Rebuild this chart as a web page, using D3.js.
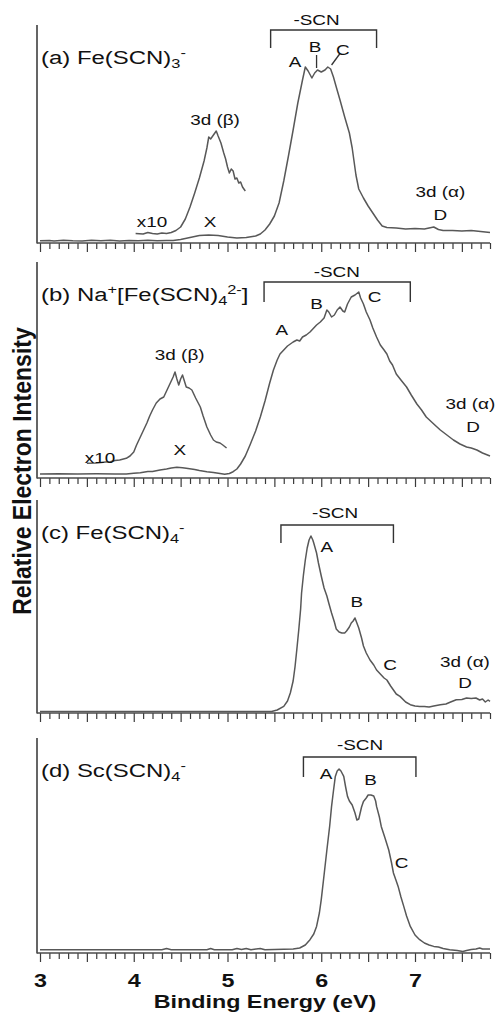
<!DOCTYPE html>
<html>
<head>
<meta charset="utf-8">
<script src="https://cdn.jsdelivr.net/npm/d3@7"></script>
<style>
html,body{margin:0;padding:0;background:#fff;}
svg{display:block;font-family:"Liberation Sans",Arial,sans-serif;}
</style>
</head>
<body>
<div id="container"></div>
<script>
// spectra: [binding energy (eV), relative intensity (arb. units)]
const specA=[[3.0,2.2],[3.1,2.6],[3.15,2.0],[3.25,2.8],[3.35,2.2],[3.45,2.0],[3.55,2.8],[3.65,2.2],[3.75,2.7],[3.85,2.0],[3.95,2.6],[4.05,2.2],[4.15,2.8],[4.25,2.3],[4.35,2.6],[4.42,2.5],[4.5,3.5],[4.6,5.5],[4.7,7.5],[4.8,8],[4.9,7.5],[5.0,6],[5.1,5],[5.2,5.5],[5.3,7],[5.35,9],[5.4,13],[5.45,19],[5.5,27],[5.55,40],[5.6,62],[5.65,87],[5.7,113],[5.75,140],[5.8,163],[5.83,176],[5.86,172],[5.9,165],[5.93,170],[5.96,173],[6.0,171],[6.04,173],[6.07,176],[6.1,174],[6.13,166],[6.16,156],[6.2,143],[6.25,126],[6.3,110],[6.33,95],[6.37,68],[6.4,54],[6.45,45],[6.5,37],[6.55,30],[6.6,23],[6.65,17],[6.7,15.5],[6.8,15],[6.9,14],[7.0,14.5],[7.1,14],[7.2,16],[7.25,13.5],[7.3,12.5],[7.4,12.5],[7.5,12],[7.6,12.5],[7.7,11.5],[7.8,10.5]];
const specAx10=[[4.02,9.5],[4.1,9.0],[4.15,10.5],[4.2,9.5],[4.25,9.0],[4.3,10],[4.35,9.5],[4.4,10.5],[4.45,12.5],[4.5,16],[4.55,24],[4.6,36],[4.65,50],[4.7,65],[4.75,82],[4.78,95],[4.8,106],[4.82,104],[4.85,108],[4.88,112],[4.9,107],[4.93,100],[4.96,90],[4.98,84],[5.0,76],[5.02,70],[5.04,74],[5.06,72],[5.08,64],[5.1,65],[5.12,60],[5.14,61],[5.16,56],[5.19,52]];
const specB=[[3.0,4],[3.2,4.3],[3.4,4],[3.6,4.2],[3.8,4],[3.92,4],[4.0,4.8],[4.07,5.3],[4.15,6.5],[4.2,6.5],[4.28,8],[4.35,9],[4.4,10],[4.46,10.7],[4.52,10.3],[4.56,9.7],[4.65,8.5],[4.7,7.5],[4.78,6.3],[4.85,5.5],[4.92,4.5],[4.97,3.7],[5.02,4.5],[5.06,6.3],[5.1,9],[5.14,14],[5.19,22],[5.24,33],[5.3,47],[5.35,61],[5.4,77],[5.45,95],[5.49,108],[5.53,118],[5.56,124],[5.6,128],[5.64,132],[5.67,134],[5.7,136],[5.74,138],[5.77,137],[5.8,141],[5.84,143],[5.88,146],[5.92,150],[5.95,153],[5.99,156],[6.03,160],[6.06,168],[6.08,166],[6.11,161],[6.14,163],[6.17,168],[6.2,171],[6.23,167],[6.25,166],[6.28,174],[6.32,181],[6.36,183],[6.4,186],[6.42,180],[6.45,174],[6.48,166],[6.52,158],[6.55,150],[6.59,141],[6.63,133],[6.67,128],[6.7,124],[6.73,117],[6.76,113],[6.8,104],[6.85,98],[6.91,91],[6.96,83],[7.02,74],[7.07,68],[7.12,61],[7.2,54],[7.27,48],[7.34,43],[7.41,38],[7.48,34],[7.55,31],[7.6,30],[7.66,28],[7.72,25],[7.8,22]];
const specBx10=[[3.5,14.7],[3.6,15],[3.7,16],[3.75,16.3],[3.8,17.5],[3.85,18],[3.92,19.7],[3.96,22],[4.0,26],[4.03,33],[4.07,41],[4.1,47],[4.14,55],[4.17,62],[4.2,68],[4.24,75],[4.28,79],[4.32,81],[4.35,87],[4.39,95],[4.42,101],[4.44,106],[4.46,99],[4.48,93],[4.5,99],[4.52,103],[4.54,97],[4.56,91],[4.59,90],[4.62,88],[4.66,80],[4.71,71],[4.74,62],[4.78,51],[4.82,43],[4.85,38],[4.88,36],[4.92,35],[4.95,33],[4.99,30]];
const specC=[[3.0,1.6],[3.5,1.6],[4.0,1.6],[4.5,1.6],[5.0,1.6],[5.47,1.6],[5.53,3],[5.6,6.6],[5.64,12],[5.67,20],[5.7,32],[5.72,46],[5.74,64],[5.76,83],[5.78,104],[5.79,120],[5.81,138],[5.83,153],[5.85,165],[5.87,173],[5.89,177],[5.91,173],[5.92,170],[5.95,160],[5.97,150],[6.0,137],[6.03,125],[6.06,117],[6.08,110],[6.11,100],[6.14,91],[6.16,84],[6.19,81],[6.22,80],[6.25,80],[6.27,82],[6.3,86],[6.32,90],[6.34,92],[6.36,95],[6.38,90],[6.4,85],[6.43,75],[6.45,67],[6.48,60],[6.52,53],[6.56,48],[6.59,43],[6.63,39],[6.67,35],[6.7,33],[6.74,27],[6.77,23],[6.8,19],[6.84,16.6],[6.9,11],[6.95,8.3],[7.0,7],[7.05,6.5],[7.1,6.6],[7.15,6],[7.2,7],[7.27,8.3],[7.33,9],[7.38,11],[7.44,13.3],[7.5,13.5],[7.55,15],[7.6,14.5],[7.65,15],[7.69,13],[7.72,14],[7.75,11],[7.78,13],[7.8,11.6]];
const specD=[[3.0,3.3],[4.3,3.3],[4.35,4.5],[4.4,3.3],[4.78,3.3],[4.82,4.5],[4.86,3.3],[5.05,3.3],[5.1,4.5],[5.15,3.5],[5.2,4.5],[5.25,3.3],[5.35,4.5],[5.4,3.3],[5.6,3.8],[5.7,4],[5.77,5],[5.83,8],[5.88,13.3],[5.92,19],[5.95,26.6],[5.98,40],[6.0,53.3],[6.03,78],[6.06,103],[6.09,127],[6.11,146.6],[6.13,162],[6.15,176.6],[6.17,182],[6.19,184],[6.21,182],[6.24,176.6],[6.26,166],[6.28,156.6],[6.3,152],[6.33,148],[6.36,140],[6.38,133],[6.4,134],[6.41,138],[6.43,146],[6.45,151.6],[6.48,155],[6.5,158],[6.53,158],[6.56,157],[6.58,152],[6.59,146.6],[6.62,136],[6.64,126.6],[6.68,115],[6.72,103],[6.75,90],[6.77,80],[6.8,72],[6.82,66.6],[6.85,56],[6.88,46.6],[6.91,37],[6.95,26.6],[7.0,18],[7.05,13.3],[7.1,10],[7.15,8],[7.2,6.6],[7.25,6],[7.3,4.5],[7.37,3.3],[7.45,2.5],[7.51,1.6],[7.55,2.5],[7.6,3.5],[7.65,4],[7.69,5],[7.72,4],[7.8,4]];

// panel titles: [text, 'n' | 'sub' | 'sup']
const titleA=[['(a) Fe(SCN)','n'],['3','sub'],['-','sup']];
const titleB=[['(b) Na','n'],['+','sup'],['[Fe(SCN)','n'],['4','sub'],['2-','sup'],[']','n']];
const titleC=[['(c) Fe(SCN)','n'],['4','sub'],['-','sup']];
const titleD=[['(d) Sc(SCN)','n'],['4','sub'],['-','sup']];

// peak labels: [text, energy, intensity]
const labelsA=[['3d (β)',4.867,118],['x10',4.195,16],['X',4.813,16],['-SCN',5.95,218],['A',5.72,176],['B',5.933,191],['C',6.23,188],['3d (α)',7.27,46],['D',7.27,23]];
const labelsB=[['3d (β)',4.49,118],['x10',3.64,15],['X',4.49,23],['-SCN',6.165,201],['A',5.58,143],['B',5.95,169],['C',6.57,176],['3d (α)',7.59,69],['D',7.62,46]];
const labelsC=[['-SCN',6.147,195],['A',6.06,161],['B',6.378,106],['C',6.733,43],['3d (α)',7.533,46],['D',7.533,25]];
const labelsD=[['-SCN',6.413,203],['A',6.05,174],['B',6.527,168],['C',6.858,85]];

// -SCN brackets: [energy from, energy to, top, leg end]
const bracketA=[5.46,6.59,213,195];
const bracketB=[5.39,6.95,196,176];
const bracketC=[5.57,6.77,188,170];
const bracketD=[5.81,7.01,196,176];
// leader lines (panel a): [e1, i1, e2, i2]
const leadersA=[[5.95,188,5.95,175],[6.2,189.5,6.11,178]];

const width=495, height=1015;
const sx=1.26; // glyphs in the source figure are stretched sideways
const panelTop=[25,262,500,738], panelBottom=[243,478,713,953];
const yMax=[218,216,213,215];

const panels=[
  {main:specA, x10:specAx10, title:titleA, labels:labelsA, bracket:bracketA, leaders:leadersA},
  {main:specB, x10:specBx10, title:titleB, labels:labelsB, bracket:bracketB, leaders:[]},
  {main:specC, x10:null, title:titleC, labels:labelsC, bracket:bracketC, leaders:[]},
  {main:specD, x10:null, title:titleD, labels:labelsD, bracket:bracketD, leaders:[]}
];

const x=d3.scaleLinear().domain([3,7.8]).range([40,490]);
const majorTicks=d3.range(6,16).map(d=>d/2);
const minorTicks=d3.range(30,79).filter(d=>d%5!==0).map(d=>d/10);

const svg=d3.select('#container').append('svg')
  .attr('width',width).attr('height',height);

panels.forEach((p,i)=>{
  const top=panelTop[i], bottom=panelBottom[i];
  const y=d3.scaleLinear().domain([0,yMax[i]]).range([bottom,top]);
  const g=svg.append('g');

  // ticks
  g.append('g').attr('transform',`translate(0,${bottom})`)
    .call(d3.axisBottom(x).tickValues(minorTicks).tickSize(6).tickSizeOuter(0).tickFormat(''))
    .call(a=>a.select('.domain').remove())
    .call(a=>a.selectAll('line').attr('stroke','#3a3a3a').attr('stroke-width',1.2));
  const maj=g.append('g').attr('transform',`translate(0,${bottom})`)
    .call(d3.axisBottom(x).tickValues(majorTicks).tickSize(9).tickSizeOuter(0)
      .tickFormat(d=> (i===3 && Number.isInteger(d)) ? d : ''))
    .call(a=>a.select('.domain').remove())
    .call(a=>a.selectAll('line').attr('stroke','#3a3a3a').attr('stroke-width',1.2));
  maj.selectAll('text')
    .attr('y',34).attr('dy',null)
    .attr('fill','#111')
    .attr('font-family','"Liberation Sans",Arial,sans-serif')
    .attr('font-size',18.5).attr('font-weight','bold')
    .attr('transform',`scale(${sx},1)`);

  // frame lines
  g.append('line').attr('x1',37).attr('x2',37).attr('y1',top).attr('y2',bottom+0.5)
    .attr('stroke','#4a4a4a').attr('stroke-width',1.7);
  g.append('line').attr('x1',37).attr('x2',490).attr('y1',bottom).attr('y2',bottom)
    .attr('stroke','#4a4a4a').attr('stroke-width',1.6);

  const line=d3.line().x(d=>x(d[0])).y(d=>y(d[1]));
  [p.main,p.x10].filter(Boolean).forEach(s=>{
    g.append('path').datum(s).attr('d',line)
      .attr('fill','none').attr('stroke','#585858').attr('stroke-width',1.5)
      .attr('stroke-linejoin','round');
  });

  // bracket
  const b=p.bracket;
  g.append('path')
    .attr('d',`M${x(b[0])},${y(b[3])}V${y(b[2])}H${x(b[1])}V${y(b[3])}`)
    .attr('fill','none').attr('stroke','#333').attr('stroke-width',1.4);
  p.leaders.forEach(l=>{
    g.append('line').attr('x1',x(l[0])).attr('y1',y(l[1])).attr('x2',x(l[2])).attr('y2',y(l[3]))
      .attr('stroke','#333').attr('stroke-width',1.3);
  });

  // labels
  p.labels.forEach(l=>{
    g.append('text')
      .attr('transform',`translate(${x(l[1])},${y(l[2])}) scale(${sx},1)`)
      .attr('text-anchor','middle').attr('font-size',15).attr('fill','#111')
      .text(l[0]);
  });

  // title
  const t=g.append('text')
    .attr('transform',`translate(41,${top+39}) scale(${sx},1)`)
    .attr('font-size',19).attr('fill','#111');
  let shift=0;
  p.title.forEach(part=>{
    const target= part[1]==='sub' ? 4 : part[1]==='sup' ? -7 : 0;
    t.append('tspan')
      .attr('dy',target-shift)
      .attr('font-size',part[1]==='n' ? 19 : 13)
      .text(part[0]);
    shift=target;
  });
});

// axis titles
svg.append('text')
  .attr('transform',`translate(265,1008) scale(${sx},1)`)
  .attr('text-anchor','middle').attr('font-size',18.5).attr('font-weight','bold').attr('fill','#111')
  .text('Binding Energy (eV)');
svg.append('text')
  .attr('transform',`translate(31,471) scale(1.12,1) rotate(-90)`)
  .attr('text-anchor','middle').attr('font-size',23).attr('font-weight','bold').attr('fill','#111')
  .text('Relative Electron Intensity');
</script>
</body>
</html>
